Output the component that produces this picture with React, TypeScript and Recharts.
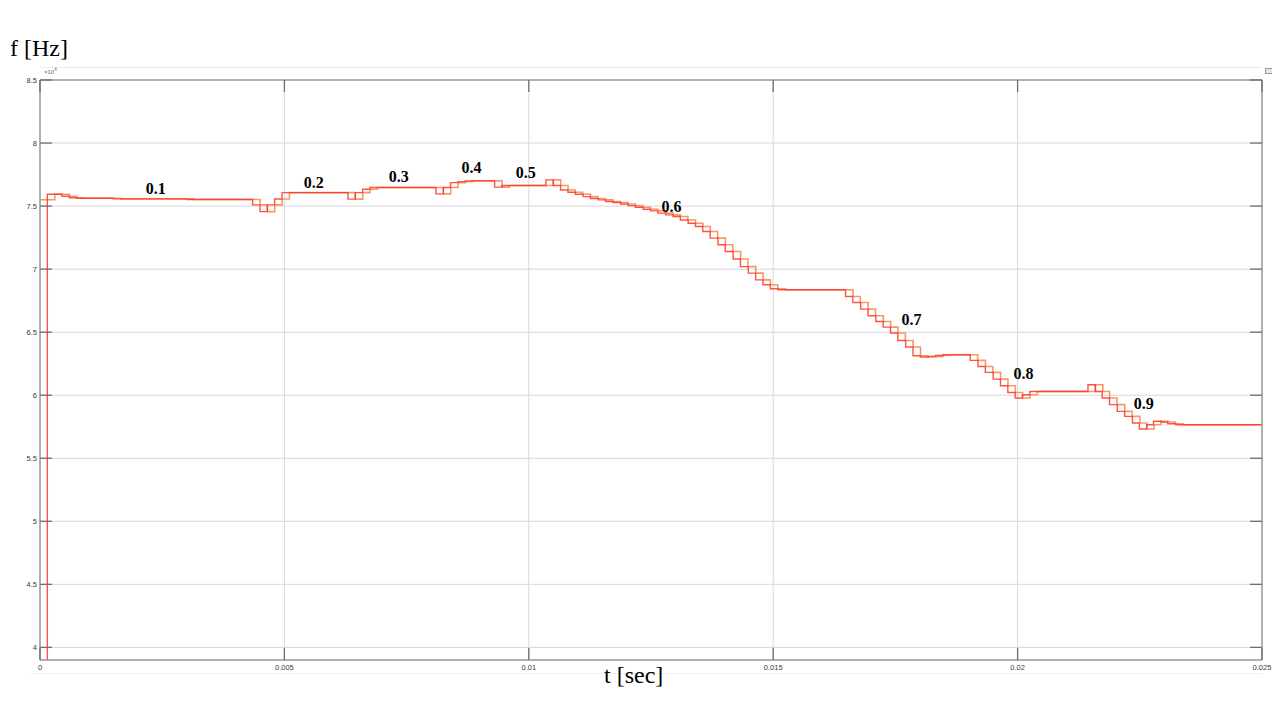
import React from 'react';
import { LineChart, Line, XAxis, YAxis, CartesianGrid, ReferenceDot } from 'recharts';

// leading (red) staircase: step start times [s] and frequency [x10^4 Hz]
const timeSec = [
  0, 0.00015, 0.00045, 0.0006, 0.00075, 0.0015, 0.003,
  0.00435, 0.0045, 0.00465, 0.0048, 0.00495,
  0.0063, 0.00645, 0.0066, 0.00675,
  0.0081, 0.00825, 0.0084, 0.00855, 0.0087,
  0.0093, 0.00945,
  0.01035, 0.0105, 0.01065, 0.0108, 0.01095, 0.01111, 0.01126, 0.01142, 0.01157, 0.01172,
  0.01188, 0.01203, 0.01218, 0.01234, 0.01249, 0.01264, 0.0128, 0.01295, 0.0131, 0.01326,
  0.01341, 0.01356, 0.01371, 0.01387, 0.01402, 0.01418, 0.01433, 0.01449, 0.01464, 0.01479,
  0.01494, 0.0151,
  0.01648, 0.01663, 0.01679, 0.01694, 0.0171, 0.01725, 0.0174, 0.01755, 0.01771, 0.01786,
  0.01801, 0.01817, 0.01832, 0.01847,
  0.01903, 0.01919, 0.01934, 0.0195, 0.01965, 0.0198, 0.01995, 0.0201, 0.02025,
  0.02144, 0.02159, 0.02173, 0.02188, 0.02204, 0.02219, 0.02235, 0.02249, 0.02264, 0.02278,
  0.02294, 0.02307, 0.02324,
];
const freqE4 = [
  0, 7.594, 7.578, 7.566, 7.562, 7.557, 7.552,
  7.51, 7.456, 7.51, 7.556, 7.607,
  7.555, 7.607, 7.634, 7.648,
  7.597, 7.648, 7.686, 7.694, 7.7,
  7.65, 7.663,
  7.708, 7.663, 7.628, 7.61, 7.594, 7.575, 7.56, 7.549, 7.536, 7.528,
  7.517, 7.504, 7.491, 7.475, 7.462, 7.444, 7.43, 7.417, 7.39, 7.364,
  7.338, 7.298, 7.246, 7.193, 7.14, 7.08, 7.02, 6.968, 6.915, 6.876,
  6.844, 6.836,
  6.783, 6.735, 6.683, 6.63, 6.585, 6.54, 6.493, 6.434, 6.382, 6.313,
  6.303, 6.308, 6.315, 6.321,
  6.276, 6.228, 6.181, 6.128, 6.075, 6.022, 5.978, 6.004, 6.03,
  6.083, 6.03, 5.978, 5.925, 5.872, 5.832, 5.78, 5.732, 5.766, 5.793,
  5.787, 5.774, 5.766,
];
const LAG_INITIAL = 7.55; // initial value of the lagging (orange) trace
const LAG_SEC = 0.000153; // one sample delay
const T_END = 0.025;

const xTicks = [0, 0.005, 0.01, 0.015, 0.02, 0.025];
const yTicks = [4, 4.5, 5, 5.5, 6, 6.5, 7, 7.5, 8, 8.5];

const labelTexts = ['0.1', '0.2', '0.3', '0.4', '0.5', '0.6', '0.7', '0.8', '0.9'];
const labelTimes = [0.00237, 0.0056, 0.00734, 0.00883, 0.00994, 0.01292, 0.01783, 0.02012, 0.02258];
const labelFreqs = [7.644, 7.692, 7.739, 7.811, 7.771, 7.502, 6.598, 6.17, 5.933];

const lastF = freqE4[freqE4.length - 1];
const leadData = timeSec.map((t, i) => ({ t, f: freqE4[i] })).concat([{ t: T_END, f: lastF }]);
const lagData = [{ t: 0, f: LAG_INITIAL }]
  .concat(timeSec.slice(1).map((t, i) => ({ t: t + LAG_SEC, f: freqE4[i + 1] })))
  .concat([{ t: T_END, f: lastF }]);

const TICK_COLOR = '#6e6e6e';
const TICK_LEN = 12;
const tickFont = { fontFamily: 'Liberation Sans, Arial, sans-serif', fontSize: 7.5, fill: '#3a3a3a' };

const BottomTick = (props: any) => {
  const { x, y, payload } = props;
  return (
    <g>
      <line x1={x} y1={y} x2={x} y2={y - TICK_LEN} stroke={TICK_COLOR} strokeWidth={1.3} />
      <text x={x} y={y + 10} textAnchor="middle" {...tickFont}>{String(payload.value)}</text>
    </g>
  );
};
const TopTick = (props: any) => {
  const { x, y } = props;
  return <line x1={x} y1={y} x2={x} y2={y + TICK_LEN} stroke={TICK_COLOR} strokeWidth={1.3} />;
};
const LeftTick = (props: any) => {
  const { x, y, payload } = props;
  return (
    <g>
      <line x1={x} y1={y} x2={x + TICK_LEN} y2={y} stroke={TICK_COLOR} strokeWidth={1.3} />
      <text x={x - 3} y={y + 2.5} textAnchor="end" {...tickFont}>{String(payload.value)}</text>
    </g>
  );
};
const RightTick = (props: any) => {
  const { x, y } = props;
  return <line x1={x} y1={y} x2={x - TICK_LEN} y2={y} stroke={TICK_COLOR} strokeWidth={1.3} />;
};

const axisLine = { stroke: '#9c9c9c', strokeWidth: 1.5 };
const serif = 'Liberation Serif, "Times New Roman", serif';

export default function App() {
  return (
    <div style={{ position: 'relative', width: 1264, height: 712 }}>
      <div style={{ position: 'absolute', left: 32, top: 59, width: 1222, height: 0, borderTop: '1px solid #ececec' }} />
      <div style={{ position: 'absolute', left: 22, top: 665, width: 1232, height: 0, borderTop: '1px solid #f0f0f0' }} />
      <div style={{ position: 'absolute', left: 1257, top: 60, width: 6, height: 4, border: '1px solid #9a9a9a', background: '#e6e6e6' }} />
      <LineChart width={1264} height={712} margin={{ top: 60, right: 0, bottom: 40, left: 2 }}>
        <CartesianGrid xAxisId="b" yAxisId="l" stroke="#d8d8d8" strokeWidth={1} />
        <XAxis xAxisId="b" type="number" dataKey="t" domain={[0, T_END]} ticks={xTicks} interval={0}
          allowDataOverflow height={20} tickSize={0} tickMargin={0} tickLine={false}
          axisLine={axisLine} tick={BottomTick} />
        <XAxis xAxisId="t" orientation="top" type="number" dataKey="t" domain={[0, T_END]} ticks={xTicks} interval={0}
          allowDataOverflow height={12} tickSize={0} tickMargin={0} tickLine={false}
          axisLine={axisLine} tick={TopTick} />
        <YAxis yAxisId="l" type="number" dataKey="f" domain={[3.9, 8.5]} ticks={yTicks} interval={0}
          allowDataOverflow width={30} tickSize={0} tickMargin={0} tickLine={false}
          axisLine={axisLine} tick={LeftTick} />
        <YAxis yAxisId="r" orientation="right" type="number" dataKey="f" domain={[3.9, 8.5]} ticks={yTicks} interval={0}
          allowDataOverflow width={10} tickSize={0} tickMargin={0} tickLine={false}
          axisLine={axisLine} tick={RightTick} />
        <Line xAxisId="b" yAxisId="l" data={lagData} dataKey="f" type="stepAfter" stroke="#f39a6c"
          strokeWidth={1.6} dot={false} activeDot={false} isAnimationActive={false} />
        <Line xAxisId="b" yAxisId="l" data={leadData} dataKey="f" type="stepAfter" stroke="#ff3526"
          strokeOpacity={0.85} strokeWidth={1.4} dot={false} activeDot={false} isAnimationActive={false} />
        {labelTexts.map((txt, i) => (
          <ReferenceDot key={txt} xAxisId="b" yAxisId="l" x={labelTimes[i]} y={labelFreqs[i]} r={0}
            fill="none" stroke="none"
            label={{ value: txt, position: 'center', fontFamily: serif, fontWeight: 700, fontSize: 16, fill: '#000' }} />
        ))}
      </LineChart>
      <div style={{ position: 'absolute', left: 36, top: 61, fontFamily: 'Liberation Sans, Arial, sans-serif', fontSize: 6, color: '#666', lineHeight: '6px' }}>
        ×10<sup style={{ fontSize: 4.5, verticalAlign: 'top', position: 'relative', top: -2 }}>4</sup>
      </div>
      <div style={{ position: 'absolute', left: 2, top: 28, fontFamily: serif, fontSize: 24, lineHeight: '24px', color: '#000', whiteSpace: 'nowrap' }}>f [Hz]</div>
      <div style={{ position: 'absolute', left: 596, top: 655, fontFamily: serif, fontSize: 24, lineHeight: '24px', color: '#000', whiteSpace: 'nowrap' }}>t [sec]</div>
    </div>
  );
}
